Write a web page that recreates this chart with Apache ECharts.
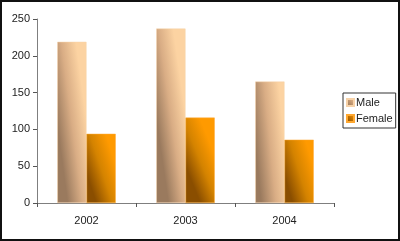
<!DOCTYPE html>
<html><head><meta charset="utf-8">
<script src="https://cdn.jsdelivr.net/npm/echarts@6/dist/echarts.min.js"></script>
<style>html,body{margin:0;padding:0;background:#fff}#c{width:400px;height:241px;box-sizing:border-box;border:2px solid #111}</style>
</head><body><div id="c"></div>
<script>
var categories = ['2002', '2003', '2004'];
var maleValues = [219, 237, 165];
var femaleValues = [94, 116, 86];
var yTicks = [0, 50, 100, 150, 200, 250];

var chart = echarts.init(document.getElementById('c'));
function grad(a, b, c, dy) {
  return new echarts.graphic.LinearGradient(0, 0.5 + dy, 1, 0.5 - dy, [
    {offset: 0, color: a}, {offset: 0.5, color: b}, {offset: 1, color: c}]);
}
chart.setOption({
  animation: false,
  textStyle: {fontFamily: 'Liberation Sans, Arial, sans-serif'},
  grid: {left: 35, top: 17, width: 297, height: 184},
  legend: {
    orient: 'vertical', left: 341, top: 91, width: 52,
    padding: [4, 3, 4, 3], itemGap: 5, itemWidth: 7, itemHeight: 7,
    borderColor: '#333', borderWidth: 1,
    textStyle: {fontSize: 11, color: '#222', padding: [0, 0, 0, -3]},
    data: [
      {name: 'Male', icon: 'rect', itemStyle: {color: new echarts.graphic.LinearGradient(0, 1, 1, 0, [{offset: 0, color: '#8a6a50'}, {offset: 1, color: '#f5c290'}])}},
      {name: 'Female', icon: 'rect', itemStyle: {color: new echarts.graphic.LinearGradient(0, 1, 1, 0, [{offset: 0, color: '#7a4200'}, {offset: 1, color: '#ff9900'}])}}
    ]
  },
  xAxis: {
    type: 'category', data: categories,
    axisLine: {lineStyle: {color: '#7f7f7f', width: 1}},
    axisTick: {show: true, length: 4, lineStyle: {color: '#555'}},
    axisLabel: {color: '#222', fontSize: 11, margin: 12}
  },
  yAxis: {
    type: 'value', min: 0, max: 250, interval: 50,
    axisLine: {show: true, lineStyle: {color: '#7f7f7f'}},
    axisTick: {show: true, length: 4, lineStyle: {color: '#555'}},
    splitLine: {show: false},
    axisLabel: {color: '#222', fontSize: 11, margin: 7,
      formatter: function (v) { return yTicks.indexOf(v) >= 0 ? String(v) : ''; }}
  },
  series: [
    {name: 'Male', type: 'bar', data: maleValues, barGap: '0%', barCategoryGap: '41%',
      itemStyle: {color: grad('#9a7a5e', '#d9ad85', '#fcd3a2', 0.012), borderColor: '#f7d2a8', borderWidth: 0.5}},
    {name: 'Female', type: 'bar', data: femaleValues, barGap: '0%', barCategoryGap: '41%',
      itemStyle: {color: grad('#8a4e00', '#d48300', '#ff9a00', 0.07), borderColor: '#ffa830', borderWidth: 0.5}}
  ]
});
</script></body></html>
